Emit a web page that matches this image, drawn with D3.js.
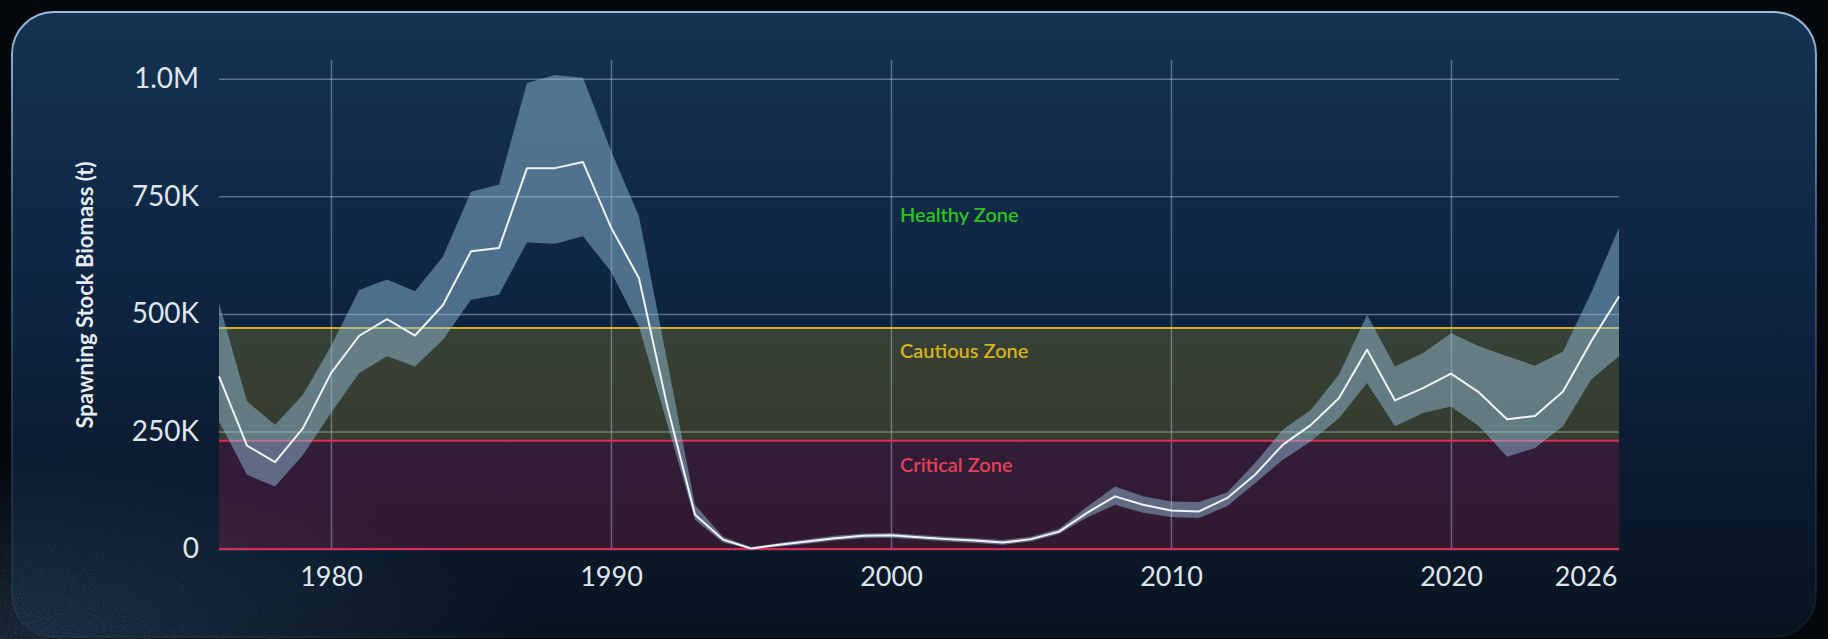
<!DOCTYPE html>
<html><head><meta charset="utf-8">
<script src="https://cdn.jsdelivr.net/npm/d3@7"></script>
<style>
html,body{margin:0;padding:0;background:#04070b;overflow:hidden;width:1828px;height:639px}
svg{display:block}
text{font-family:Lato,"Open Sans","DejaVu Sans",sans-serif}
</style></head><body>
<svg id="chart" width="1828" height="639"></svg>
<script>
// ---- data (biomass in thousand tonnes) ----
const years = [1976,1977,1978,1979,1980,1981,1982,1983,1984,1985,1986,1987,1988,1989,1990,1991,1992,1993,1994,1995,1996,1997,1998,1999,2000,2001,2002,2003,2004,2005,2006,2007,2008,2009,2010,2011,2012,2013,2014,2015,2016,2017,2018,2019,2020,2021,2022,2023,2024,2025,2026];
const meanK  = [367,220,185,257,374,453,489,454,519,633,640,810,810,823,684,576,306,73,20,1,9,16,23,28,29,25,21,18,14,21,37,77,112,94,82,80,108,158,222,264,321,424,316,342,373,333,276,283,335,441,537];
const upperK = [523,314,264,328,431,551,573,548,622,760,775,991,1008,1002,847,707,402,94,26,4,13,21,28,33,34,30,26,23,19,26,43,90,133,112,101,100,120,183,254,296,371,498,388,417,459,431,410,390,420,544,683];
const lowerK = [271,158,133,200,289,374,410,388,445,530,541,652,649,665,590,473,268,62,14,0,5,11,18,23,24,20,16,13,9,16,32,67,94,77,68,66,91,140,190,229,278,353,261,289,303,261,196,215,261,360,410];

const yTicks = [0, 250000, 500000, 750000, 1000000];
const xTicks = [1980, 1990, 2000, 2010, 2020, 2026];

const zoneNames   = ["Healthy Zone", "Cautious Zone", "Critical Zone"];
const zoneLow     = [470000, 230000, 0];
const zoneHigh    = [null, 470000, 230000];
const zoneLabelAt = [695000, 407000, 163000];
const zoneColors  = ["#2cc41c", "#d8b21c", "#e2405c"];
const zoneFills   = [null, "#f0c41c", "#e0204e"];
const zoneLines   = [["#cfae2a", 470000], ["#dc2a52", 230000], ["#dc2a52", 0]];

const yTitle = "Spawning Stock Biomass (t)";

// ---- layout ----
const W = 1828, H = 639;
const plot = {left: 219, right: 1619, top: 60, bottom: 549};

const svg = d3.select("#chart");
const defs = svg.append("defs");

const cg = defs.append("linearGradient").attr("id","cardGrad").attr("x1",0).attr("y1",0).attr("x2",0).attr("y2",1);
cg.append("stop").attr("offset","0%").attr("stop-color","#153253");
cg.append("stop").attr("offset","45%").attr("stop-color","#0e2542");
cg.append("stop").attr("offset","100%").attr("stop-color","#08131f");

const bg = defs.append("linearGradient").attr("id","borderGrad").attr("x1",0).attr("y1",0).attr("x2",0).attr("y2",1);
bg.append("stop").attr("offset","0%").attr("stop-color","#a4c8e6").attr("stop-opacity",0.95);
bg.append("stop").attr("offset","35%").attr("stop-color","#7ea6c8").attr("stop-opacity",0.45);
bg.append("stop").attr("offset","100%").attr("stop-color","#3d5f80").attr("stop-opacity",0.15);

const rg = defs.append("radialGradient").attr("id","glow").attr("cx","0%").attr("cy","100%").attr("r","30%");
rg.append("stop").attr("offset","0%").attr("stop-color","#3a5f86").attr("stop-opacity",0.28);
rg.append("stop").attr("offset","100%").attr("stop-color","#3a5f86").attr("stop-opacity",0);

const mg = defs.append("radialGradient").attr("id","maskGrad").attr("cx","0%").attr("cy","100%").attr("r","28%");
mg.append("stop").attr("offset","0%").attr("stop-color","#fff");
mg.append("stop").attr("offset","100%").attr("stop-color","#000");
defs.append("mask").attr("id","noiseMask").append("rect").attr("width",W).attr("height",H).attr("fill","url(#maskGrad)");

const nf = defs.append("filter").attr("id","noise").attr("x",0).attr("y",0).attr("width","100%").attr("height","100%");
nf.append("feTurbulence").attr("type","fractalNoise").attr("baseFrequency",0.85).attr("numOctaves",2).attr("seed",3);
nf.append("feColorMatrix").attr("values","0 0 0 0 0.45  0 0 0 0 0.6  0 0 0 0 0.8  0 0 0 1.2 -0.45");

svg.append("rect").attr("width",W).attr("height",H).attr("fill","#04070b");

svg.append("rect").attr("x",12).attr("y",12).attr("width",1804).attr("height",625).attr("rx",42)
  .attr("fill","url(#cardGrad)").attr("stroke","url(#borderGrad)").attr("stroke-width",2);

svg.append("rect").attr("width",W).attr("height",H).attr("fill","url(#glow)");
svg.append("rect").attr("width",W).attr("height",H)
  .attr("filter","url(#noise)").attr("opacity",0.3).attr("mask","url(#noiseMask)");

// ---- scales ----
const x = d3.scaleLinear().domain([1976, 2026]).range([plot.left, plot.right]);
const y = d3.scaleLinear().domain([0, 1040000]).range([plot.bottom, plot.top]);

const data = years.map((yr,i)=>({year:yr, mean:meanK[i]*1000, hi:upperK[i]*1000, lo:lowerK[i]*1000}));

// zone fills
const zoneData = zoneNames.map((n,i)=>({name:n, lo:zoneLow[i], hi:zoneHigh[i], fill:zoneFills[i], color:zoneColors[i], at:zoneLabelAt[i]}));
svg.append("g").selectAll("rect").data(zoneData.filter(d=>d.fill)).join("rect")
  .attr("x", x(1976)).attr("width", x(2026)-x(1976))
  .attr("y", d=>y(d.hi)).attr("height", d=>y(d.lo)-y(d.hi))
  .attr("fill", d=>d.fill).attr("fill-opacity", 0.19);

// gridlines + tick labels
const fmt = d => d === 0 ? "0" : (d >= 1e6 ? (d/1e6).toFixed(1)+"M" : (d/1e3)+"K");
const gy = svg.append("g").attr("transform",`translate(${plot.left},0)`)
  .call(d3.axisLeft(y).tickValues(yTicks).tickSize(-(plot.right-plot.left)).tickPadding(20).tickFormat(fmt));
gy.select(".domain").remove();
gy.selectAll("line").attr("stroke","#c4d4e6").attr("stroke-opacity",0.42).attr("stroke-width",1.5);
gy.selectAll("text").attr("fill","#dfe6ee").attr("font-size",28).attr("font-family","Lato");

const gx = svg.append("g").attr("transform",`translate(0,${plot.bottom})`)
  .call(d3.axisBottom(x).tickValues(xTicks).tickSize(-(plot.bottom-plot.top)).tickPadding(18).tickFormat(d3.format("d")));
gx.select(".domain").remove();
gx.selectAll("line").attr("stroke","#c4d4e6").attr("stroke-opacity",0.4).attr("stroke-width",1.5);
gx.selectAll(".tick").filter(d=>d===2026).select("line").remove();
gx.selectAll("text").attr("fill","#dfe6ee").attr("font-size",27).attr("font-family","Lato");
gx.selectAll(".tick").filter(d=>d===2026).select("text").attr("text-anchor","end").attr("x",-2);

// zone boundary lines
svg.append("g").selectAll("line").data(zoneLines).join("line")
  .attr("x1", x(1976)).attr("x2", x(2026))
  .attr("y1", d=>y(d[1])).attr("y2", d=>y(d[1]))
  .attr("stroke", d=>d[0]).attr("stroke-width", 2);

// confidence ribbon
svg.append("path").datum(data)
  .attr("d", d3.area().x(d=>x(d.year)).y0(d=>y(d.lo)).y1(d=>y(d.hi)))
  .attr("fill","#96c4de").attr("fill-opacity",0.47);

// mean line
svg.append("path").datum(data)
  .attr("d", d3.line().x(d=>x(d.year)).y(d=>y(d.mean)))
  .attr("fill","none").attr("stroke","#eef4f8").attr("stroke-width",2).attr("stroke-linejoin","round");

// zone labels
svg.append("g").selectAll("text").data(zoneData).join("text")
  .attr("x", x(2000)+9).attr("y", d=>y(d.at))
  .attr("fill", d=>d.color).attr("font-size",20).attr("font-weight",600)
  .text(d=>d.name);

// y axis title
svg.append("text").attr("transform","translate(93,295) rotate(-90)")
  .attr("text-anchor","middle").attr("fill","#e6ecf2").attr("font-size",22).attr("font-weight",700)
  .text(yTitle);
</script>
</body></html>
